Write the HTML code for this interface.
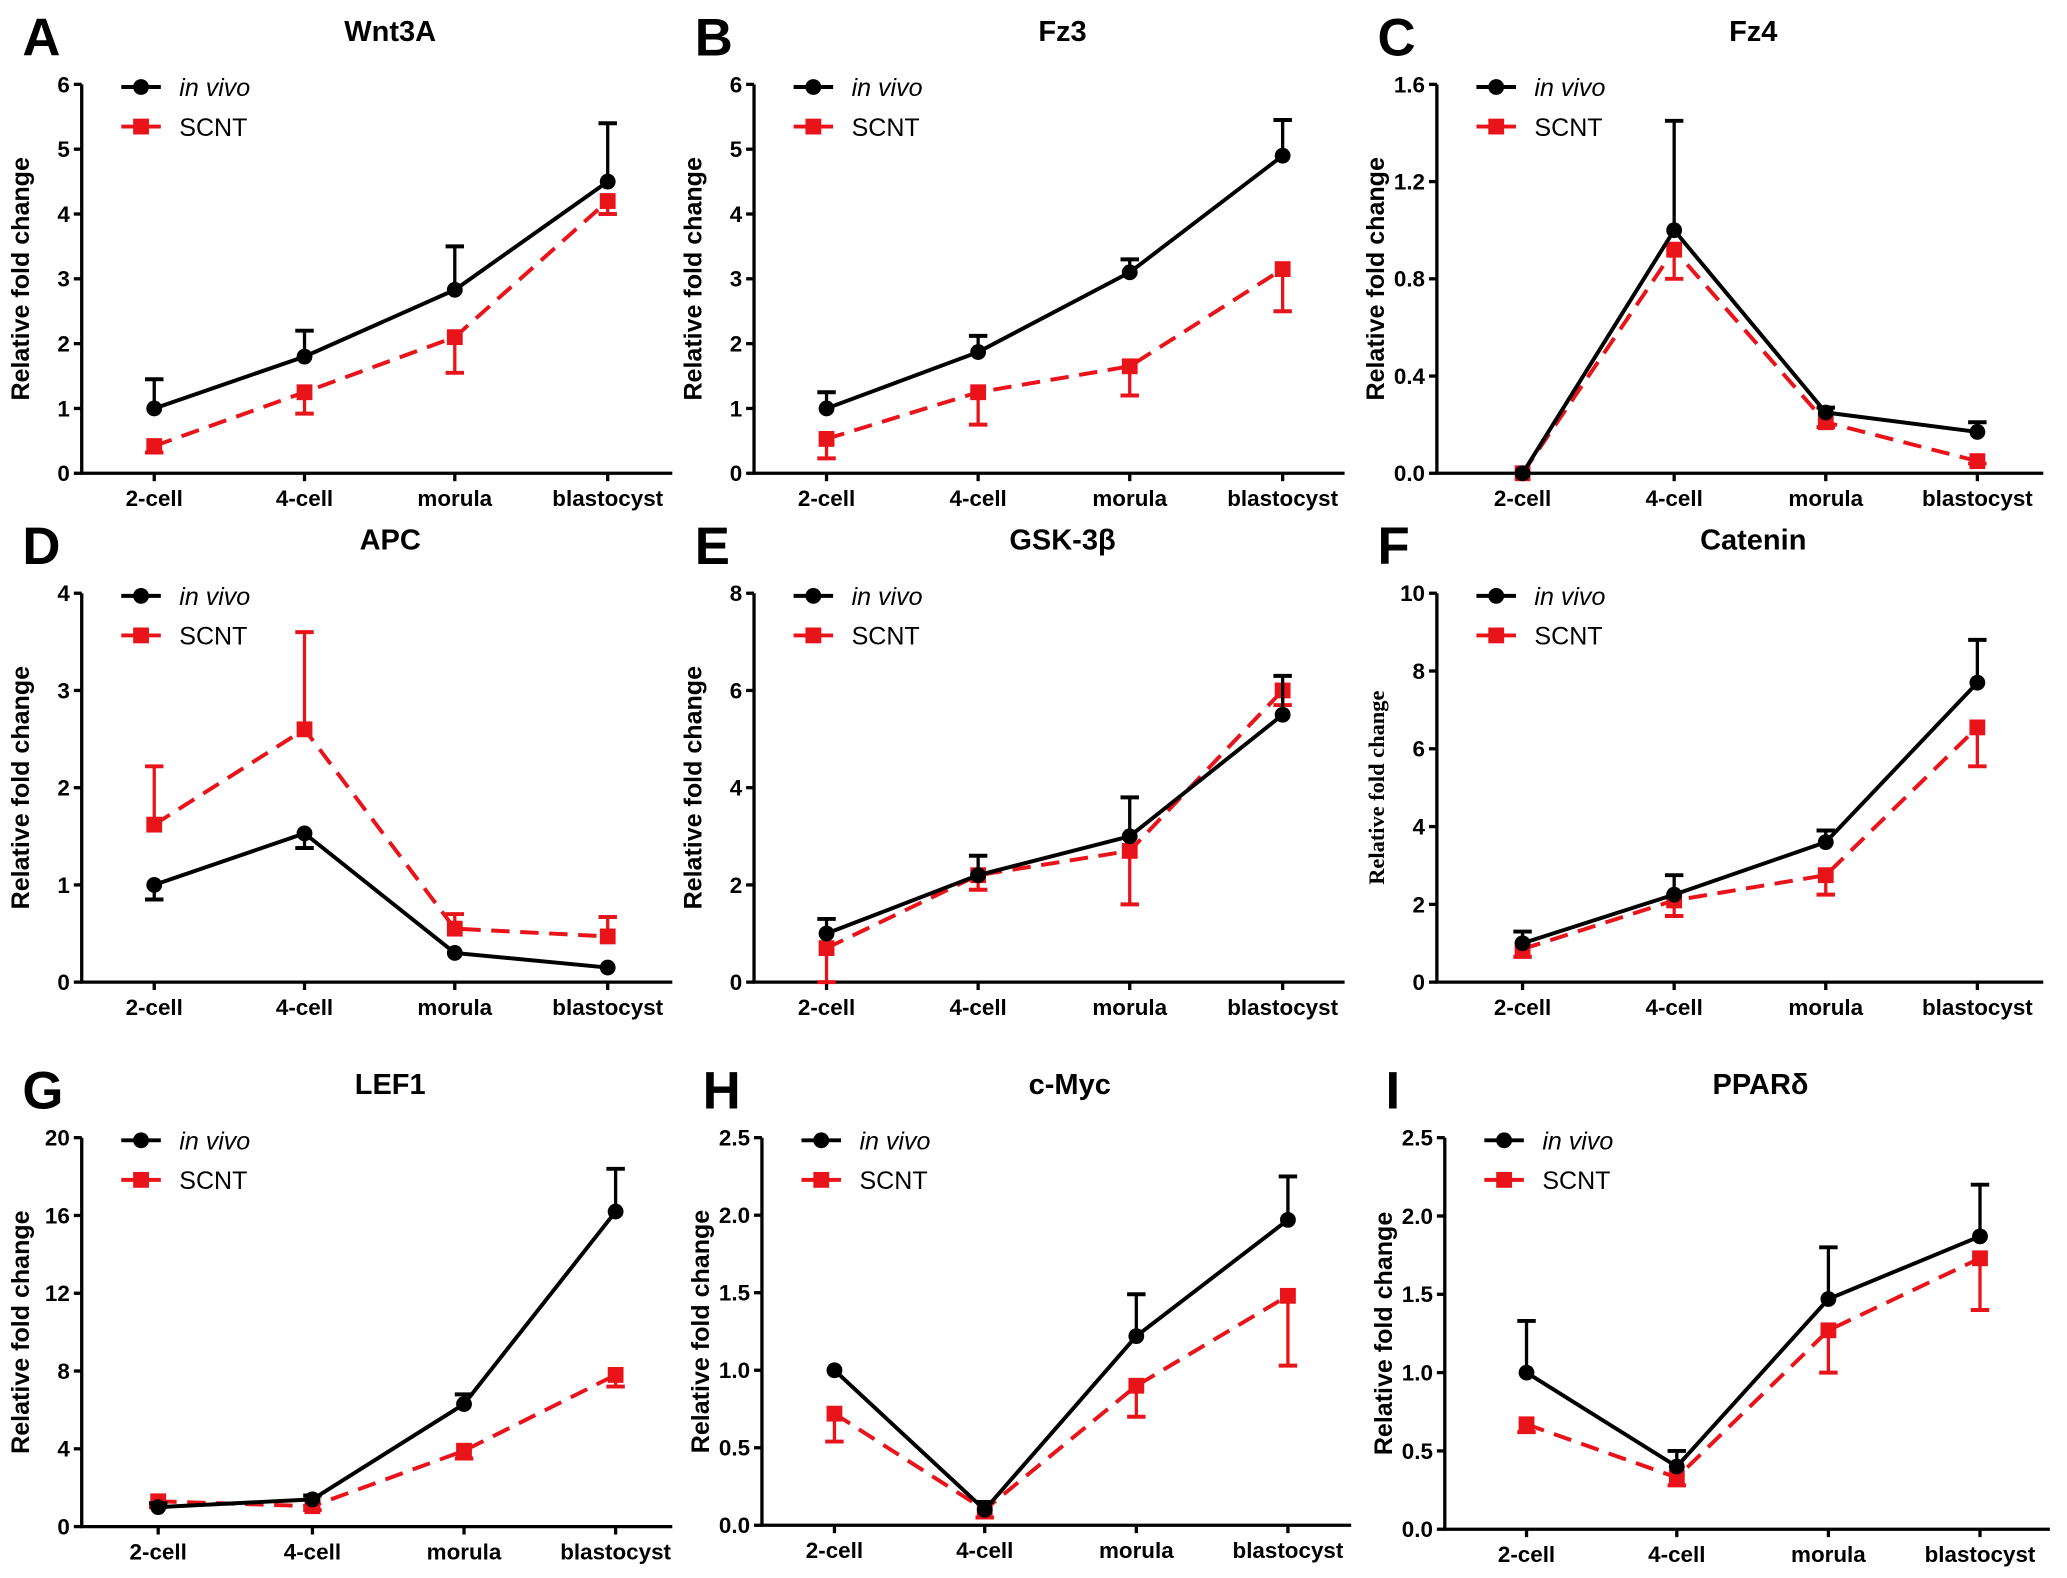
<!DOCTYPE html>
<html><head><meta charset="utf-8"><style>
html,body{margin:0;padding:0;background:#fff;}
svg{display:block;}
text{font-family:"Liberation Sans",Arial,sans-serif;}
</style></head><body>
<svg id="fig" width="2067" height="1578" viewBox="0 0 1568 1197" preserveAspectRatio="none" xmlns="http://www.w3.org/2000/svg"></svg>
<script>
const categories = ["2-cell","4-cell","morula","blastocyst"];
// Errors: positive = bar drawn upward, negative = downward
const wnt3aVivo=[1.0,1.8,2.83,4.5], wnt3aVivoErr=[0.45,0.4,0.67,0.9];
const wnt3aScnt=[0.42,1.25,2.1,4.2], wnt3aScntErr=[-0.1,-0.33,-0.55,-0.2];
const fz3Vivo=[1.0,1.87,3.1,4.9], fz3VivoErr=[0.25,0.25,0.2,0.55];
const fz3Scnt=[0.53,1.25,1.65,3.15], fz3ScntErr=[-0.3,-0.5,-0.45,-0.65];
const fz4Vivo=[0,1.0,0.25,0.17], fz4VivoErr=[0,0.45,0.02,0.04];
const fz4Scnt=[0,0.92,0.21,0.05], fz4ScntErr=[0,-0.12,-0.02,-0.01];
const apcVivo=[1.0,1.53,0.3,0.15], apcVivoErr=[-0.15,-0.15,0,0];
const apcScnt=[1.62,2.6,0.55,0.47], apcScntErr=[0.6,1.0,0.15,0.2];
const gskVivo=[1.0,2.2,3.0,5.5], gskVivoErr=[0.3,0.4,0.8,0.8];
const gskScnt=[0.7,2.2,2.7,6.0], gskScntErr=[-0.7,-0.3,-1.1,-0.3];
const catVivo=[1.0,2.25,3.6,7.7], catVivoErr=[0.3,0.5,0.3,1.1];
const catScnt=[0.85,2.1,2.75,6.55], catScntErr=[-0.2,-0.4,-0.5,-1.0];
const lefVivo=[1.0,1.4,6.3,16.2], lefVivoErr=[0.2,0.2,0.5,2.2];
const lefScnt=[1.3,1.05,3.9,7.8], lefScntErr=[-0.3,-0.2,-0.4,-0.6];
const mycVivo=[1.0,0.1,1.22,1.97], mycVivoErr=[0,0.05,0.27,0.28];
const mycScnt=[0.72,0.1,0.9,1.48], mycScntErr=[-0.18,-0.05,-0.2,-0.45];
const ppVivo=[1.0,0.4,1.47,1.87], ppVivoErr=[0.33,0.1,0.33,0.33];
const ppScnt=[0.67,0.33,1.27,1.73], ppScntErr=[-0.05,-0.05,-0.27,-0.33];
const ticksA=["0","1","2","3","4","5","6"];
const ticksC=["0.0","0.4","0.8","1.2","1.6"];
const ticksD=["0","1","2","3","4"];
const ticksE=["0","2","4","6","8"];
const ticksF=["0","2","4","6","8","10"];
const ticksG=["0","4","8","12","16","20"];
const ticksH=["0.0","0.5","1.0","1.5","2.0","2.5"];

const NS="http://www.w3.org/2000/svg";
const svg=document.getElementById('fig');
function mk(tag,attrs,parent,txt){const e=document.createElementNS(NS,tag);for(const k in attrs)e.setAttribute(k,attrs[k]);if(txt!==undefined)e.textContent=txt;(parent||svg).appendChild(e);return e;}

const panels=[
 {L:"A",t:"Wnt3A",x0:62,x1:510,yt:64,yb:359,xs:[117,231,345,461],ticks:ticksA,max:6,v:wnt3aVivo,ve:wnt3aVivoErr,s:wnt3aScnt,se:wnt3aScntErr},
 {L:"B",t:"Fz3",x0:572,x1:1020,yt:64,yb:359,xs:[627,742,857,973],ticks:ticksA,max:6,v:fz3Vivo,ve:fz3VivoErr,s:fz3Scnt,se:fz3ScntErr},
 {L:"C",t:"Fz4",x0:1090,x1:1550,yt:64,yb:359,xs:[1155,1270,1385,1500],ticks:ticksC,max:1.6,v:fz4Vivo,ve:fz4VivoErr,s:fz4Scnt,se:fz4ScntErr},
 {L:"D",t:"APC",x0:62,x1:510,yt:450,yb:745,xs:[117,231,345,461],ticks:ticksD,max:4,v:apcVivo,ve:apcVivoErr,s:apcScnt,se:apcScntErr},
 {L:"E",t:"GSK-3β",x0:572,x1:1020,yt:450,yb:745,xs:[627,742,857,973],ticks:ticksE,max:8,v:gskVivo,ve:gskVivoErr,s:gskScnt,se:gskScntErr},
 {L:"F",t:"Catenin",x0:1090,x1:1550,yt:450,yb:745,xs:[1155,1270,1385,1500],ticks:ticksF,max:10,v:catVivo,ve:catVivoErr,s:catScnt,se:catScntErr,serif:true},
 {L:"G",t:"LEF1",x0:62,x1:510,yt:863,yb:1158,xs:[120,237,352,467],ticks:ticksG,max:20,v:lefVivo,ve:lefVivoErr,s:lefScnt,se:lefScntErr},
 {L:"H",t:"c-Myc",x0:578,x1:1025,yt:863,yb:1157,xs:[633,747,862,977],ticks:ticksH,max:2.5,v:mycVivo,ve:mycVivoErr,s:mycScnt,se:mycScntErr},
 {L:"I",t:"PPARδ",x0:1096,x1:1555,yt:863,yb:1160,xs:[1158,1272,1387,1502],ticks:ticksH,max:2.5,v:ppVivo,ve:ppVivoErr,s:ppScnt,se:ppScntErr}
];

panels.forEach((p,pi)=>{
 const g=mk('g',{});
 
 
 const y=v=>p.yb-(v/p.max)*(p.yb-p.yt);
 const lab=mk('text',{x:p.x0-45,y:p.yt-22,'font-size':40,'font-weight':'bold'},g,p.L);
  
 const tt=mk('text',{x:(p.x0+p.x1)/2+10,y:p.yt-33,'font-size':22,'font-weight':'bold','text-anchor':'middle'},g,p.t);
  
 const ax=mk('path',{d:`M${p.x0} ${p.yt}V${p.yb}H${p.x1}`,stroke:'#000','stroke-width':2.5,fill:'none'},g);
  
 p.ticks.forEach((t,i)=>{
  const yy=y(parseFloat(t));
  mk('line',{x1:p.x0-6,x2:p.x0,y1:yy,y2:yy,stroke:'#000','stroke-width':2.5},g);
  const tl=mk('text',{x:p.x0-9,y:yy+6,'font-size':17,'font-weight':'bold','text-anchor':'end'},g,t);
   
 });
 categories.forEach((c,i)=>{
  mk('line',{x1:p.xs[i],x2:p.xs[i],y1:p.yb,y2:p.yb+6,stroke:'#000','stroke-width':2.5},g);
  const cl=mk('text',{x:p.xs[i],y:p.yb+25,'font-size':17,'font-weight':'bold','text-anchor':'middle'},g,c);
   
 });
 const ym=(p.yt+p.yb)/2;
 const yl=mk('text',{x:p.x0-40,y:ym,'font-size':p.serif?17:19,'font-weight':'bold','text-anchor':'middle',transform:`rotate(-90 ${p.x0-40} ${ym})`,style:p.serif?'font-family:"Liberation Serif",serif':''},g,'Relative fold change');
  
 const series=[{v:p.s,e:p.se,c:'#e8141a',dash:'14 8',sq:true,n:'scnt'},{v:p.v,e:p.ve,c:'#000',dash:'',sq:false,n:'in-vivo'}];
 series.forEach(s=>{
  const sg=mk('g',{},g);
   
  s.v.forEach((v,i)=>{
   if(!s.e[i])return;
   const y2=y(v+s.e[i]);
   mk('line',{x1:p.xs[i],x2:p.xs[i],y1:y(v),y2:y2,stroke:s.c,'stroke-width':2.5},sg);
   mk('line',{x1:p.xs[i]-7,x2:p.xs[i]+7,y1:y2,y2:y2,stroke:s.c,'stroke-width':3},sg);
  });
  const pts=s.v.map((v,i)=>p.xs[i]+','+y(v)).join(' ');
  mk('polyline',{points:pts,fill:'none',stroke:s.c,'stroke-width':3,'stroke-dasharray':s.dash},sg);
  s.v.forEach((v,i)=>{
   let m;
   if(s.sq) m=mk('rect',{x:p.xs[i]-6,y:y(v)-6,width:12,height:12,fill:s.c},sg);
   else m=mk('circle',{cx:p.xs[i],cy:y(v),r:6,fill:s.c},sg);
    
  });
 });
 const lg=mk('g',{},g);
  
 const lx=p.x0+30, ly=p.yt+2;
 mk('line',{x1:lx,x2:lx+30,y1:ly,y2:ly,stroke:'#000','stroke-width':3},lg);
 mk('circle',{cx:lx+15,cy:ly,r:6,fill:'#000'},lg);
 mk('text',{x:lx+44,y:ly+7,'font-size':19,'font-style':'italic'},lg,'in vivo');
 mk('line',{x1:lx,x2:lx+30,y1:ly+30,y2:ly+30,stroke:'#e8141a','stroke-width':3},lg);
 mk('rect',{x:lx+9,y:ly+24,width:12,height:12,fill:'#e8141a'},lg);
 mk('text',{x:lx+44,y:ly+37,'font-size':19},lg,'SCNT');
});
</script>
</body></html>
